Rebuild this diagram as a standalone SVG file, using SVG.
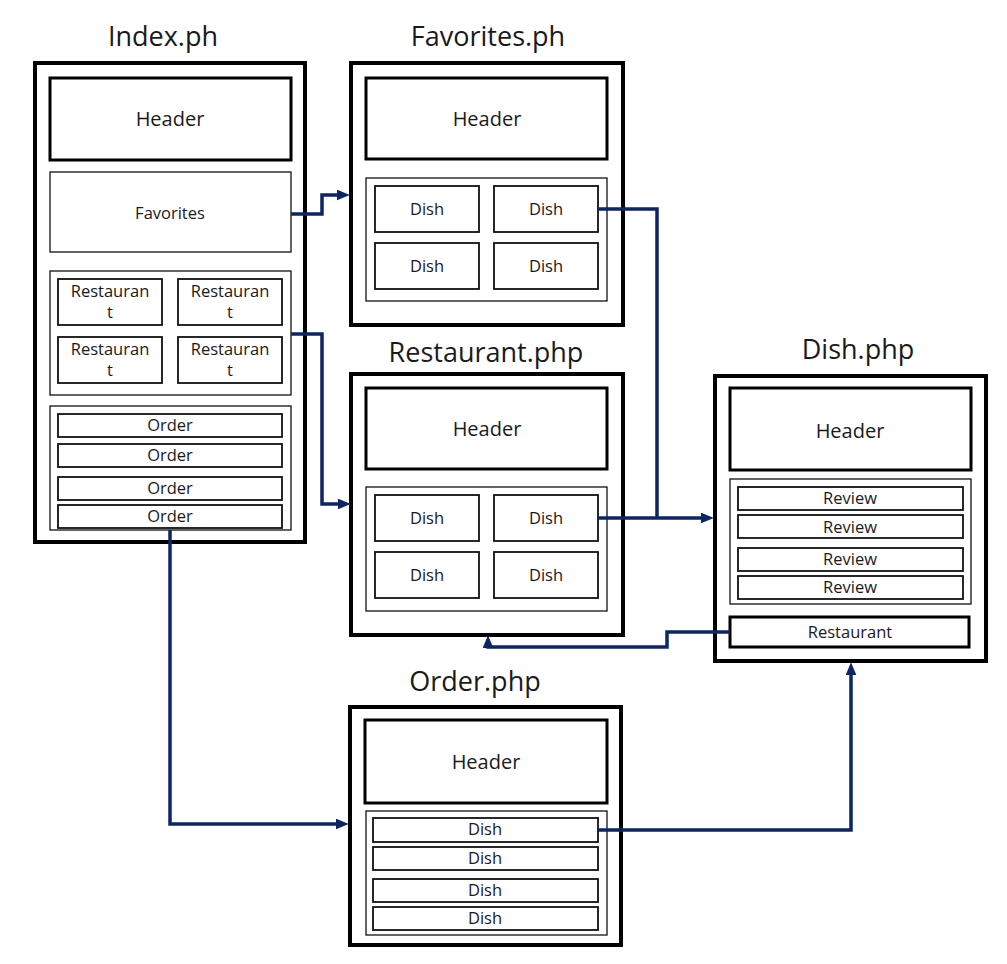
<svg xmlns="http://www.w3.org/2000/svg" width="1007" height="964" viewBox="0 0 1007 964">
<style>
text{font-family:"Open Sans","Noto Sans","DejaVu Sans",sans-serif;fill:#1a1a1a;text-anchor:middle}
.title{font-size:27px}
.hd{font-size:20px}
.sm{font-size:16.5px}
.xs{font-size:16.5px}
.outer{fill:#fff;stroke:#000;stroke-width:4}
.head{fill:#fff;stroke:#000;stroke-width:3}
.cont{fill:#fff;stroke:#111;stroke-width:1.3}
.item{fill:#fff;stroke:#111;stroke-width:1.8}
.conn{fill:none;stroke:#0b2566;stroke-width:3.5}
</style>
<defs>
<marker id="arr" viewBox="0 0 12 10" refX="2" refY="5" markerWidth="13" markerHeight="11" markerUnits="userSpaceOnUse" orient="auto">
<path d="M0,0 L12,5 L0,10 z" fill="#0b2566"/>
</marker>
</defs>
<rect width="1007" height="964" fill="#fff"/>

<g id="index">
<text class="title" x="163" y="46">Index.ph</text>
<rect class="outer" x="35" y="63" width="270" height="479"/>
<rect class="head" x="50" y="78" width="241" height="82"/>
<text class="hd" x="170" y="126">Header</text>
<rect class="cont" x="50" y="172" width="241" height="80"/>
<text class="sm" x="170" y="219">Favorites</text>
<rect class="cont" x="50" y="271" width="241" height="124"/>
<rect class="item" x="58" y="279" width="104" height="46"/>
<rect class="item" x="178" y="279" width="104" height="46"/>
<rect class="item" x="58" y="337" width="104" height="46"/>
<rect class="item" x="178" y="337" width="104" height="46"/>
<text class="sm" x="110" y="297">Restauran</text><text class="sm" x="110" y="318">t</text>
<text class="sm" x="230" y="297">Restauran</text><text class="sm" x="230" y="318">t</text>
<text class="sm" x="110" y="355">Restauran</text><text class="sm" x="110" y="376">t</text>
<text class="sm" x="230" y="355">Restauran</text><text class="sm" x="230" y="376">t</text>
<rect class="cont" x="50" y="406" width="241" height="124"/>
<rect class="item" x="58" y="414" width="224" height="23"/>
<rect class="item" x="58" y="444" width="224" height="23"/>
<rect class="item" x="58" y="477" width="224" height="23"/>
<rect class="item" x="58" y="505" width="224" height="23"/>
<text class="xs" x="170" y="431">Order</text>
<text class="xs" x="170" y="461">Order</text>
<text class="xs" x="170" y="494">Order</text>
<text class="xs" x="170" y="522">Order</text>
</g>

<g id="favorites">
<text class="title" x="488" y="46">Favorites.ph</text>
<rect class="outer" x="351" y="63" width="272" height="262"/>
<rect class="head" x="366" y="78" width="241" height="81"/>
<text class="hd" x="487" y="126">Header</text>
<rect class="cont" x="366" y="178" width="241" height="123"/>
<rect class="item" x="375" y="186" width="104" height="46"/>
<rect class="item" x="494" y="186" width="104" height="46"/>
<rect class="item" x="375" y="243" width="104" height="46"/>
<rect class="item" x="494" y="243" width="104" height="46"/>
<text class="sm" x="427" y="215">Dish</text>
<text class="sm" x="546" y="215">Dish</text>
<text class="sm" x="427" y="272">Dish</text>
<text class="sm" x="546" y="272">Dish</text>
</g>

<g id="restaurant">
<text class="title" x="486" y="362">Restaurant.php</text>
<rect class="outer" x="351" y="374" width="272" height="261"/>
<rect class="head" x="366" y="388" width="241" height="81"/>
<text class="hd" x="487" y="436">Header</text>
<rect class="cont" x="366" y="487" width="241" height="124"/>
<rect class="item" x="375" y="495" width="104" height="46"/>
<rect class="item" x="494" y="495" width="104" height="46"/>
<rect class="item" x="375" y="552" width="104" height="46"/>
<rect class="item" x="494" y="552" width="104" height="46"/>
<text class="sm" x="427" y="524">Dish</text>
<text class="sm" x="546" y="524">Dish</text>
<text class="sm" x="427" y="581">Dish</text>
<text class="sm" x="546" y="581">Dish</text>
</g>

<g id="dish">
<text class="title" x="858" y="359">Dish.php</text>
<rect class="outer" x="715" y="376" width="271" height="285"/>
<rect class="head" x="730" y="388" width="241" height="82"/>
<text class="hd" x="850" y="438">Header</text>
<rect class="cont" x="730" y="479" width="241" height="125"/>
<rect class="item" x="738" y="487" width="225" height="23"/>
<rect class="item" x="738" y="515" width="225" height="23"/>
<rect class="item" x="738" y="548" width="225" height="23"/>
<rect class="item" x="738" y="576" width="225" height="23"/>
<text class="xs" x="850" y="504">Review</text>
<text class="xs" x="850" y="533">Review</text>
<text class="xs" x="850" y="565">Review</text>
<text class="xs" x="850" y="593">Review</text>
<rect class="head" x="730" y="617" width="239" height="30"/>
<text class="xs" x="850" y="638">Restaurant</text>
</g>

<g id="order">
<text class="title" x="475" y="691">Order.php</text>
<rect class="outer" x="350" y="707" width="271" height="238"/>
<rect class="head" x="365" y="720" width="242" height="83"/>
<text class="hd" x="486" y="769">Header</text>
<rect class="cont" x="366" y="811" width="241" height="124"/>
<rect class="item" x="373" y="818" width="225" height="24"/>
<rect class="item" x="373" y="847" width="225" height="23"/>
<rect class="item" x="373" y="879" width="225" height="23"/>
<rect class="item" x="373" y="907" width="225" height="23"/>
<text class="xs" x="485" y="835">Dish</text>
<text class="xs" x="485" y="864">Dish</text>
<text class="xs" x="485" y="896">Dish</text>
<text class="xs" x="485" y="924">Dish</text>
</g>

<g id="connectors">
<path class="conn" d="M291,214 H322 V195 H339" marker-end="url(#arr)"/>
<path class="conn" d="M291,334 H322 V504 H340" marker-end="url(#arr)"/>
<path class="conn" d="M598,209 H657 V518"/>
<path class="conn" d="M598,518 H703" marker-end="url(#arr)"/>
<path class="conn" d="M730,632 H667 V647 H488 V646" marker-end="url(#arr)"/>
<path class="conn" d="M170,530 V824 H338" marker-end="url(#arr)"/>
<path class="conn" d="M598,830 H851 V673" marker-end="url(#arr)"/>
</g>
</svg>
